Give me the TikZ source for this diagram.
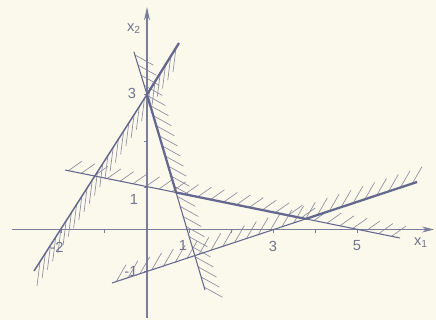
\documentclass[tikz,border=0pt]{standalone}
\usepackage{fontspec}
\setmainfont{Liberation Sans}
\usetikzlibrary{arrows.meta,calc}
\definecolor{bg}{RGB}{251,249,236}
\definecolor{axiscol}{RGB}{122,126,152}
\definecolor{boundcol}{RGB}{100,104,142}
\definecolor{hatchcol}{RGB}{140,142,160}
\definecolor{txtcol}{RGB}{112,116,142}
\newcommand\hatchseg[5]{%
  \foreach \i in {0,...,#3} {
    \draw[hatchstroke] ($(#1)!\i/#3!(#2)$) -- ++(#4,#5);
  }%
}
\begin{document}
\begin{tikzpicture}[x=0.75pt,y=-0.75pt,
  axisline/.style={draw=axiscol,line width=0.9pt},
  thinline/.style={draw=boundcol,line width=0.8pt},
  boundline/.style={draw=boundcol,line width=1.7pt,line join=round},
  hatchstroke/.style={draw=hatchcol,line width=0.5pt},
  lbl/.style={text=txtcol,font=\fontsize{11}{12}\selectfont,inner sep=0pt},
  tickmark/.style={draw=axiscol,line width=0.6pt}]
\fill[bg] (0,0) rectangle (436,320);
\useasboundingbox (0,0) rectangle (436,320);
% key points
\coordinate (O) at (147,229.5);
\coordinate (xs) at (12,229.5);
\coordinate (xe) at (434,229.5);
\coordinate (ys) at (147,318);
\coordinate (ye) at (147,7);
\coordinate (L1a) at (34,271);
\coordinate (L1b) at (179,43);
\coordinate (L2a) at (134,52);
\coordinate (L2b) at (205,290);
\coordinate (L3a) at (65,170);
\coordinate (L3b) at (400,238);
\coordinate (L4a) at (112,283);
\coordinate (L4b) at (417,182);
\coordinate (P1) at (147,94.5);
\coordinate (P2) at (176.1,192.5);
\coordinate (P3) at (305.8,218.9);
% hatching
\hatchseg{40,262}{176,48}{26}{-3}{24}
\hatchseg{135,55}{204,287}{23}{18.4}{10.2}
\hatchseg{68,171}{392,236}{25}{13.9}{-9.8}
\hatchseg{116,282}{412,184}{25}{10}{-17.3}
% axes
\draw[axisline,-{Stealth[length=9pt,width=4.5pt]}] (xs) -- (xe);
\draw[axisline,-{Stealth[length=10pt,width=4.5pt]}] (ys) -- (ye);
% ticks
\foreach \xx in {61,104,189,231,273,315,357} \draw[tickmark] (\xx,229.5) -- (\xx,233);
\foreach \yy in {271,187,141,94} \draw[tickmark] (147,\yy) -- (143.5,\yy);
% constraint lines (thin parts)
\draw[thinline,line width=1.1pt] (P1) -- (L1a);
\draw[thinline] (L2a) -- (P1);
\draw[thinline] (P2) -- (L2b);
\draw[thinline] (L3a) -- (P2);
\draw[thinline] (P3) -- (L3b);
\draw[thinline] (L4a) -- (P3);
% boundary
\draw[boundline] (L1b) -- (P1) -- (P2) -- (P3) -- (L4b);
% labels
\node[lbl] (lx2) at (134,29) {x\textsubscript{2}};
\node[lbl] (lx1) at (421,243) {x\textsubscript{1}};
\node[lbl] (ly3) at (132,93) {3};
\node[lbl] (ly1) at (134,199) {1};
\node[lbl] (lym1) at (131,271) {-1};
\node[lbl] (lxm2) at (57,247) {-2};
\node[lbl] (lx1n) at (183,245) {1};
\node[lbl] (lx3) at (273,246) {3};
\node[lbl] (lx5) at (357,246) {5};
\end{tikzpicture}
\end{document}
